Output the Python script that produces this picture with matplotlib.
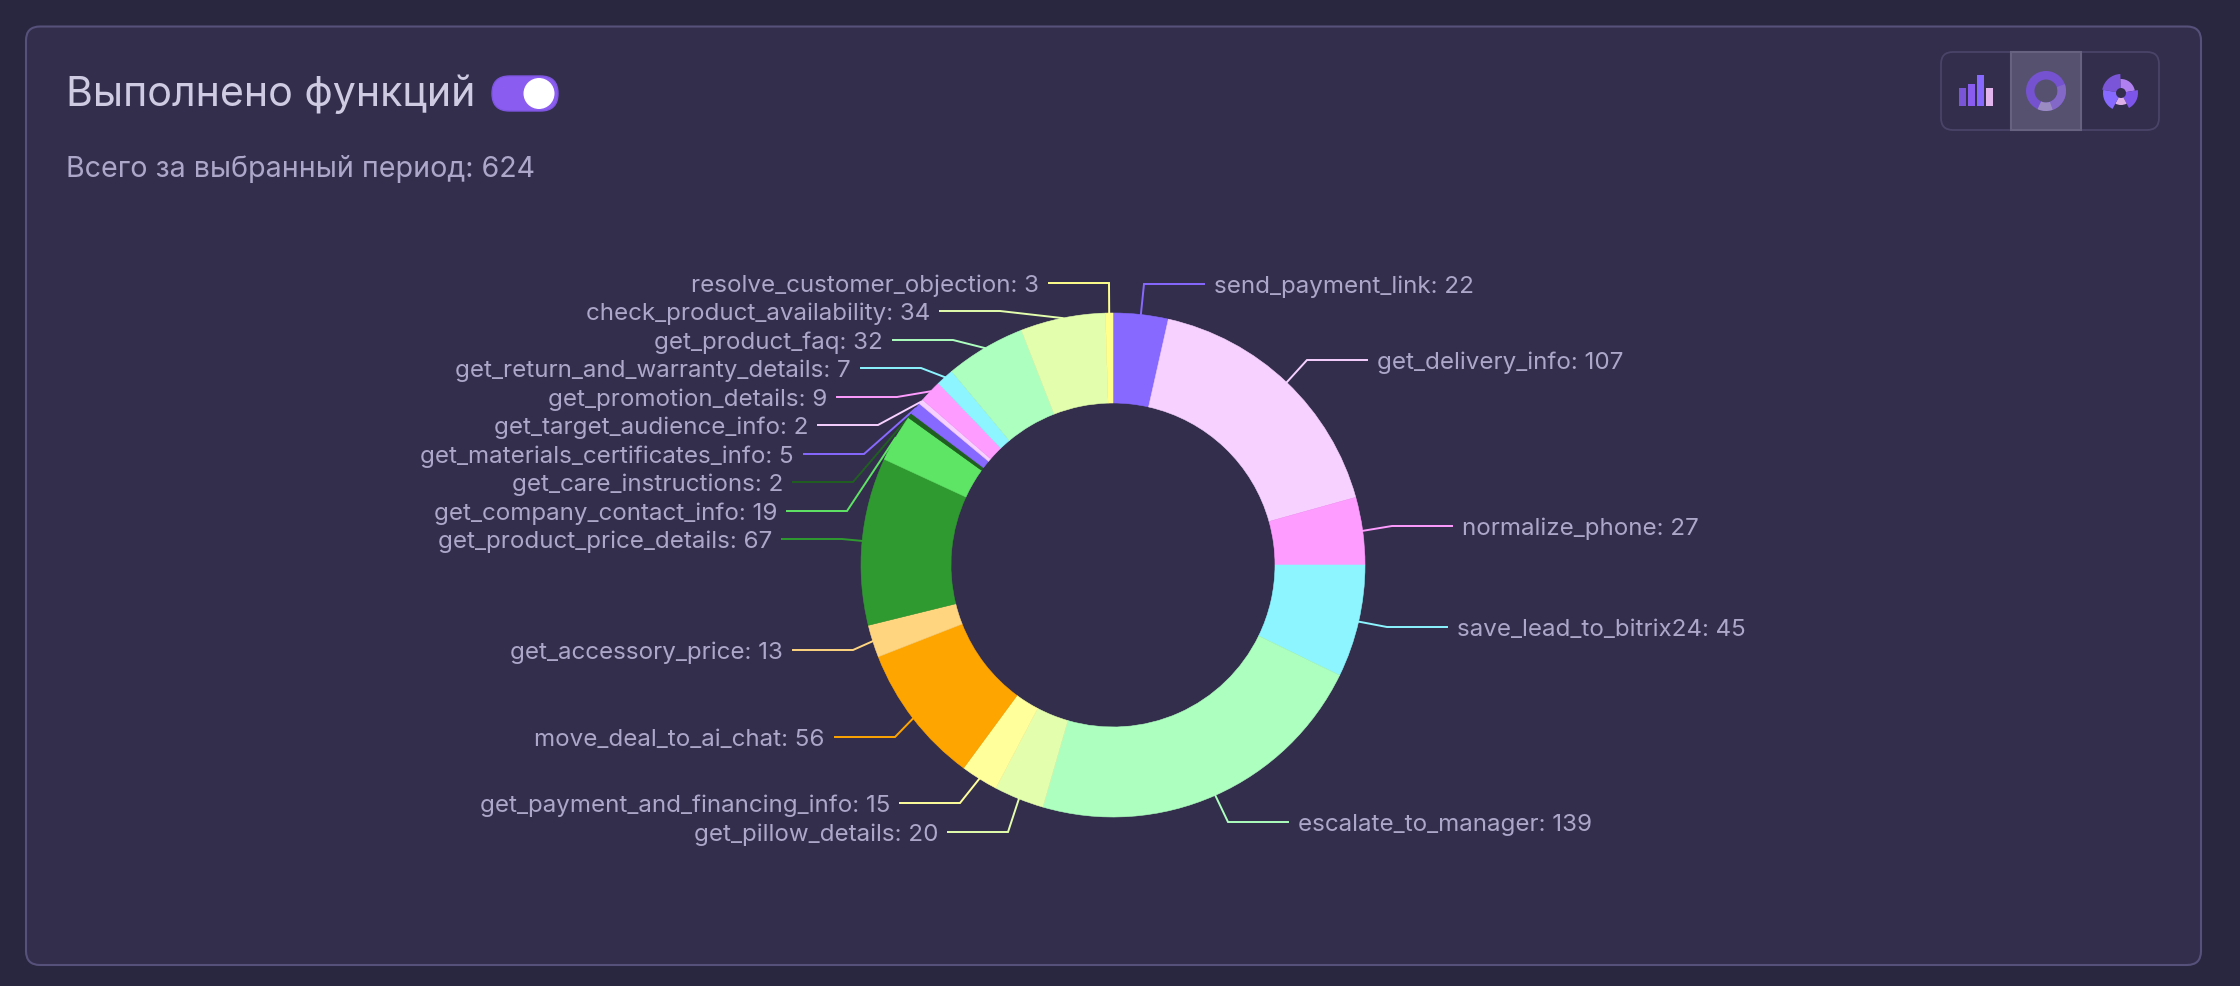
import math
import matplotlib
matplotlib.use("Agg")
import matplotlib.pyplot as plt
from matplotlib.patches import FancyBboxPatch, Rectangle, Circle, Wedge

# ---- data ----
TITLE = "Выполнено функций"
SUBTITLE = "Всего за выбранный период: 624"
categories = ["send_payment_link", "get_delivery_info", "normalize_phone", "save_lead_to_bitrix24",
              "escalate_to_manager", "get_pillow_details", "get_payment_and_financing_info",
              "move_deal_to_ai_chat", "get_accessory_price", "get_product_price_details",
              "get_company_contact_info", "get_care_instructions", "get_materials_certificates_info",
              "get_target_audience_info", "get_promotion_details", "get_return_and_warranty_details",
              "get_product_faq", "check_product_availability", "resolve_customer_objection"]
values = [22, 107, 27, 45, 139, 20, 15, 56, 13, 67, 19, 2, 5, 2, 9, 7, 32, 34, 3]

# ---- styles and layout (pixels) ----
colors = ["#8769FF", "#F7D1FF", "#FF9CFF", "#8CF5FF", "#ADFFBF", "#E3FFAD", "#FFFF9C", "#FFA500", "#FFD580",
          "#2F9A2F", "#5FE565", "#1F5F20", "#8769FF", "#F7D1FF", "#FF9CFF", "#8CF5FF", "#ADFFBF", "#E3FFAD",
          "#FFFF8C"]
label_y = [284, 360, 526, 627, 822, 832, 803, 737, 650, 539, 511, 482, 454, 425, 397, 368, 340, 311, 283]
elbow_x = [1144, 1307, 1392, 1387, 1228, 1008, 960, 895, 853, 842, 847, 853, 864, 878, 897, 921, 953, 1000, 1109]
side = [1, 1, 1, 1, 1, -1, -1, -1, -1, -1, -1, -1, -1, -1, -1, -1, -1, -1, -1]

BG = "#292640"
CARD = "#332E4C"
BORDER = "#56517A"
TXT_LABEL = "#ADA8C9"
TXT_TITLE = "#CFCBE3"
ACCENT = "#8B5CF0"
W, H = 2240, 986
CX, CY, R, RIN = 1113, 565, 252, 162

fig = plt.figure(figsize=(W / 100, H / 100), dpi=100, facecolor=BG)
ax = fig.add_axes([0, 0, 1, 1])

wedges, _ = ax.pie(values, colors=colors, startangle=-90, counterclock=True, center=(CX, CY), radius=R,
                   wedgeprops=dict(width=R - RIN, linewidth=0.4, zorder=3), frame=True)
for w, c in zip(wedges, colors):
    w.set_edgecolor(c)
ax.set_xlim(0, W)
ax.set_ylim(H, 0)
ax.set_aspect("equal")
ax.axis("off")

# card
ax.add_patch(FancyBboxPatch((26, 26.5), 2175, 938.5, boxstyle="round,pad=0,rounding_size=14",
                            fc=CARD, ec=BORDER, lw=1.5, zorder=1))

# leader lines + labels
for w, name, v, ly, ex, s, c in zip(wedges, categories, values, label_y, elbow_x, side, colors):
    a = math.radians((w.theta1 + w.theta2) / 2)
    sx, sy = CX + R * math.cos(a), CY + R * math.sin(a)
    endx = ex + s * 60
    ax.plot([sx, ex, endx], [sy, ly, ly], color=c, lw=1.4, zorder=2.5, solid_joinstyle="miter")
    ax.text(endx + s * 10, ly, f"{name}: {v}", ha="left" if s > 0 else "right", va="center_baseline",
            color=TXT_LABEL, fontsize=17.4, family="Inter", zorder=4)

# header
ax.text(66, 106, TITLE, color=TXT_TITLE, fontsize=29.6, family="Inter", va="baseline", ha="left", zorder=4)
ax.text(66, 177, SUBTITLE, color=TXT_LABEL, fontsize=20.6, family="Inter", va="baseline", ha="left", zorder=4)

# toggle
ax.add_patch(FancyBboxPatch((492, 76), 66, 35, boxstyle="round,pad=0,rounding_size=17.5",
                            fc=ACCENT, ec="#7D55E0", lw=1, zorder=3))
ax.add_patch(Circle((539, 93.5), 15.5, fc="white", ec="none", zorder=4))

# toolbar
ax.add_patch(FancyBboxPatch((1941, 52), 218, 78, boxstyle="round,pad=0,rounding_size=12",
                            fc="none", ec="#4A4568", lw=1.3, zorder=3))
ax.add_patch(Rectangle((2011, 52), 70, 78, fc="#575170", ec="#67627F", lw=1.5, zorder=3))

bar_left = [1959, 1968, 1977, 1986]
bar_top = [88, 84, 75, 88]
bar_col = ["#7B55D8", "#8B5CF0", "#8769FF", "#E3B5EE"]
for l, t, c in zip(bar_left, bar_top, bar_col):
    ax.add_patch(Rectangle((l, t), 7, 106 - t, fc=c, ec="none", zorder=4))

ax.add_patch(Wedge((2046, 91), 20, 0, 360, width=8.5, fc="#7552D0", ec="none", zorder=4))
ax.add_patch(Wedge((2046, 91), 20, 340, 70, width=8.5, fc="#8468C8", ec="none", zorder=4))
ax.add_patch(Wedge((2046, 91), 20, 70, 115, width=8.5, fc="#9A8CC0", ec="none", zorder=4))

rose = [(-170, -92, 19, "#7B55D8"), (-92, -10, 14, "#B080F0"), (-10, 62, 17, "#7D55E8"),
        (62, 118, 12, "#DDB0E8"), (118, 190, 18, "#8769FF")]
for t1, t2, r, c in rose:
    ax.add_patch(Wedge((2121, 93), r, t1, t2, width=r - 5, fc=c, ec="none", zorder=4))

fig.savefig("out.png", dpi=100, facecolor=BG)
